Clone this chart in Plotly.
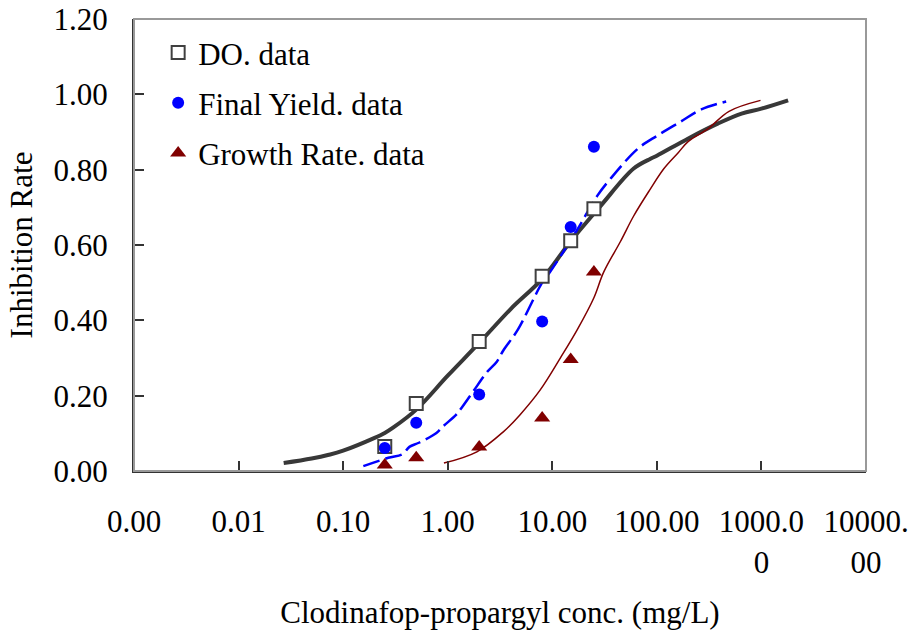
import plotly.graph_objects as go

# ---- data ----
conc = [0.25, 0.5, 2, 8, 15, 25]
do_data = [0.065, 0.179, 0.344, 0.517, 0.611, 0.696]
fy_data = [0.061, 0.128, 0.203, 0.397, 0.648, 0.861]
gr_data = [0.016, 0.035, 0.064, 0.141, 0.296, 0.528]

do_fit_x = [0.027, 0.05, 0.073, 0.1, 0.2, 0.25, 0.3, 0.5, 1, 2, 4, 8, 15, 29, 60, 87, 100, 200, 386, 646, 1000, 1800]
do_fit_y = [0.021, 0.033, 0.043, 0.054, 0.088, 0.101, 0.115, 0.163, 0.253, 0.34, 0.43, 0.51, 0.61, 0.704, 0.803, 0.829, 0.837, 0.883, 0.923, 0.949, 0.962, 0.984]

fy_fit_x = [0.156, 0.27, 0.37, 0.43, 0.53, 0.78, 0.89, 1.2, 1.36, 1.75, 2.4, 2.96, 3.4, 4.7, 8, 9.5, 17, 27, 36, 66, 102, 170, 266, 460]
fy_fit_y = [0.013, 0.035, 0.045, 0.064, 0.075, 0.101, 0.117, 0.149, 0.168, 0.211, 0.264, 0.291, 0.32, 0.376, 0.5, 0.528, 0.637, 0.731, 0.776, 0.856, 0.891, 0.928, 0.96, 0.981]

gr_fit_x = [0.92, 1.9, 3.4, 4.9, 7.7, 12, 17.4, 25, 31, 45, 60, 85, 117, 160, 200, 310, 490, 980]
gr_fit_y = [0.021, 0.051, 0.104, 0.149, 0.216, 0.301, 0.376, 0.46, 0.528, 0.61, 0.677, 0.745, 0.803, 0.845, 0.875, 0.909, 0.955, 0.984]

x_tickvals = [0.001, 0.01, 0.1, 1, 10, 100, 1000, 10000]
x_ticktext = ["0.00", "0.01", "0.10", "1.00", "10.00", "100.00", "1000.0<br>0", "10000.<br>00"]
y_tickvals = [0, 0.2, 0.4, 0.6, 0.8, 1.0, 1.2]
y_ticktext = ["0.00", "0.20", "0.40", "0.60", "0.80", "1.00", "1.20"]

FONT = "Liberation Serif"
FS = 31

fig = go.Figure()

fig.add_trace(go.Scatter(x=do_fit_x, y=do_fit_y, mode="lines", showlegend=False,
                         line=dict(color="#383838", width=4), line_shape="spline"))
fig.add_trace(go.Scatter(x=fy_fit_x, y=fy_fit_y, mode="lines", showlegend=False,
                         line=dict(color="#0000FF", width=2.5, dash="17px,6px"), line_shape="spline"))
fig.add_trace(go.Scatter(x=gr_fit_x, y=gr_fit_y, mode="lines", showlegend=False,
                         line=dict(color="#800000", width=1.5), line_shape="spline"))

fig.add_trace(go.Scatter(x=conc, y=do_data, mode="markers", name="DO. data", legendgroup="a",
                         marker=dict(symbol="square", size=13, color="white",
                                     line=dict(color="#404040", width=2))))
fig.add_trace(go.Scatter(x=conc, y=fy_data, mode="markers", name="Final Yield. data", legendgroup="b",
                         marker=dict(symbol="circle", size=12, color="#0000FF")))
fig.add_trace(go.Scatter(x=conc, y=gr_data, mode="markers", name="Growth Rate. data", legendgroup="c",
                         marker=dict(symbol="triangle-up", size=14, color="#800000")))

fig.add_shape(type="rect", xref="paper", yref="paper", x0=0, y0=0, x1=1, y1=1,
              line=dict(color="#999999", width=2), layer="above")

fig.update_layout(
    width=913, height=641,
    margin=dict(l=134, r=47, t=19, b=170, autoexpand=False),
    paper_bgcolor="white", plot_bgcolor="white",
    font=dict(family=FONT, size=FS, color="black"),
    showlegend=True,
    legend=dict(x=0.033, y=0.985, xanchor="left", yanchor="top",
                bgcolor="rgba(0,0,0,0)", traceorder="grouped", tracegroupgap=7,
                font=dict(family=FONT, size=FS, color="black")),
    xaxis=dict(type="log", range=[-3, 4], tickvals=x_tickvals, ticktext=x_ticktext,
               automargin=False, ticklabeloverflow="allow",
               showgrid=False, zeroline=False, showline=True, linecolor="#333333", linewidth=2,
               ticks="inside", ticklen=10, tickwidth=1.5, tickcolor="#333333",
               ticklabelstandoff=22,
               tickfont=dict(family=FONT, size=FS),
               title=dict(text="Clodinafop-propargyl conc. (mg/L)", standoff=23,
                          font=dict(family=FONT, size=FS))),
    yaxis=dict(range=[0, 1.2], tickvals=y_tickvals, ticktext=y_ticktext,
               automargin=False, ticklabeloverflow="allow",
               showgrid=False, zeroline=False, showline=True, linecolor="#333333", linewidth=2,
               ticks="inside", ticklen=10, tickwidth=1.5, tickcolor="#333333",
               ticklabelstandoff=18,
               tickfont=dict(family=FONT, size=FS),
               title=dict(text="Inhibition Rate", standoff=12,
                          font=dict(family=FONT, size=FS))),
)

fig.write_html("out.html", config={"displayModeBar": False},
               post_script="document.body.style.margin='0';")
